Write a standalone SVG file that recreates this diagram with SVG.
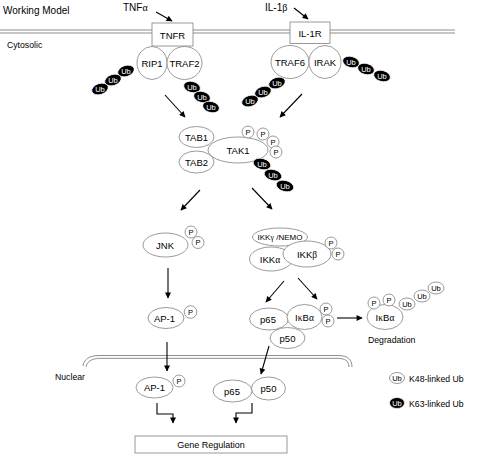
<svg xmlns="http://www.w3.org/2000/svg" width="477" height="454" viewBox="0 0 477 454">
<defs>
<marker id="ah" viewBox="0 0 10 10" refX="9" refY="5" markerWidth="7" markerHeight="6" markerUnits="userSpaceOnUse" orient="auto">
<path d="M0,0 L10,5 L0,10 z" fill="#000"/>
</marker>
<style>
text{font-family:"Liberation Sans",Arial,sans-serif;fill:#000}
.n{fill:#fff;stroke:#808080;stroke-width:0.8}
.lbl{font-size:9.5px;text-anchor:middle}
.ub ellipse{fill:#000;stroke:#fff;stroke-width:0.7}
.ub text{fill:#fff;font-size:7.5px;text-anchor:middle}
.wub ellipse{fill:#fff;stroke:#808080;stroke-width:0.8}
.wub text{font-size:7.5px;text-anchor:middle}
.p circle{fill:#fff;stroke:#808080;stroke-width:0.8}
.p text{font-size:7.5px;text-anchor:middle}
.mem{fill:none;stroke:#808080;stroke-width:0.9}
.arr{fill:none;stroke:#000;stroke-width:1.1;marker-end:url(#ah)}
.g{font-family:"Liberation Serif","DejaVu Serif",serif}
</style>
</defs>
<rect width="477" height="454" fill="#fff"/>

<!-- membranes -->
<g id="membranes">
<line class="mem" x1="0" y1="30" x2="455" y2="30"/>
<line class="mem" x1="0" y1="33" x2="455" y2="33"/>
<path class="mem" d="M83,366 C84,360 88,355.5 100,355.5 L338,355.5 C347,355.5 352,359 352,367"/>
<path class="mem" d="M86,367 C87,362 91,358.3 101,358.3 L337,358.3 C345,358.3 349,361 349,367"/>
</g>

<text x="3" y="14" style="font-size:10px">Working Model</text>
<text x="7" y="48" style="font-size:8.7px">Cytosolic</text>
<text x="55" y="380" style="font-size:8.7px">Nuclear</text>
<text x="123" y="11" style="font-size:10px">TNF<tspan class="g">α</tspan></text>
<text x="265" y="11" style="font-size:10px">IL-1<tspan class="g">β</tspan></text>

<!-- connectors -->
<g id="connectors">
<line class="arr" x1="156" y1="12" x2="172" y2="21"/>
<line class="arr" x1="294" y1="8" x2="308" y2="19"/>
<line class="arr" x1="165" y1="95" x2="185" y2="117"/>
<line class="arr" x1="302" y1="94" x2="280" y2="117"/>
<line class="arr" x1="200" y1="190" x2="181" y2="210"/>
<line class="arr" x1="252" y1="188" x2="272" y2="209"/>
<line class="arr" x1="168" y1="268" x2="168" y2="298"/>
<line class="arr" x1="284" y1="281" x2="266" y2="302"/>
<line class="arr" x1="298" y1="278" x2="317" y2="299"/>
<line class="arr" x1="337" y1="318" x2="362" y2="318"/>
<line class="arr" x1="167" y1="342" x2="167" y2="371"/>
<line class="arr" x1="269" y1="346" x2="261" y2="374"/>
<polyline class="arr" points="157,403 157,414 173,414 173,423"/>
<polyline class="arr" points="252,403 252,413 236,413 236,423"/>
</g>

<!-- TNFR complex -->
<g id="TNFR">
<rect class="n" x="152" y="23" width="41" height="23"/>
<text class="lbl" x="172.5" y="38.5">TNFR</text>
</g>
<g id="RIP1">
<ellipse class="n" cx="152" cy="63" rx="15" ry="16.5"/>
<text class="lbl" x="152" y="66.5">RIP1</text>
</g>
<g id="TRAF2">
<ellipse class="n" cx="184.5" cy="63" rx="17.5" ry="16.5"/>
<text class="lbl" x="184.5" y="66.5">TRAF2</text>
</g>
<g id="ub-rip1" class="ub">
<g transform="rotate(-18 126 71)"><ellipse cx="126" cy="71" rx="8.5" ry="5.5"/></g><text x="126" y="73.7">Ub</text>
<g transform="rotate(-18 113 80)"><ellipse cx="113" cy="80" rx="8.5" ry="5.5"/></g><text x="113" y="82.7">Ub</text>
<g transform="rotate(-18 100 89)"><ellipse cx="100" cy="89" rx="8.5" ry="5.5"/></g><text x="100" y="91.7">Ub</text>
</g>
<g id="ub-traf2" class="ub">
<g transform="rotate(15 192 87)"><ellipse cx="192" cy="87" rx="8.5" ry="5.5"/></g><text x="192" y="89.7">Ub</text>
<g transform="rotate(15 202 97)"><ellipse cx="202" cy="97" rx="8.5" ry="5.5"/></g><text x="202" y="99.7">Ub</text>
<g transform="rotate(15 211 107)"><ellipse cx="211" cy="107" rx="8.5" ry="5.5"/></g><text x="211" y="109.7">Ub</text>
</g>

<!-- IL-1R complex -->
<g id="IL1R">
<rect class="n" x="290" y="22" width="40" height="21.5"/>
<text class="lbl" x="310" y="37">IL-1R</text>
</g>
<g id="TRAF6">
<ellipse class="n" cx="290" cy="62" rx="19" ry="16.5"/>
<text class="lbl" x="290" y="65.5">TRAF6</text>
</g>
<g id="IRAK">
<ellipse class="n" cx="325" cy="62" rx="16" ry="16.5"/>
<text class="lbl" x="325" y="65.5">IRAK</text>
</g>
<g id="ub-irak" class="ub">
<g transform="rotate(15 351 62)"><ellipse cx="351" cy="62" rx="8.5" ry="5.5"/></g><text x="351" y="64.7">Ub</text>
<g transform="rotate(15 366 69)"><ellipse cx="366" cy="69" rx="8.5" ry="5.5"/></g><text x="366" y="71.7">Ub</text>
<g transform="rotate(15 382 76)"><ellipse cx="382" cy="76" rx="8.5" ry="5.5"/></g><text x="382" y="78.7">Ub</text>
</g>
<g id="ub-traf6" class="ub">
<g transform="rotate(-18 277 83)"><ellipse cx="277" cy="83" rx="8.5" ry="5.5"/></g><text x="277" y="85.7">Ub</text>
<g transform="rotate(-18 263 92)"><ellipse cx="263" cy="92" rx="8.5" ry="5.5"/></g><text x="263" y="94.7">Ub</text>
<g transform="rotate(-18 250 101)"><ellipse cx="250" cy="101" rx="8.5" ry="5.5"/></g><text x="250" y="103.7">Ub</text>
</g>

<!-- TAK1 complex -->
<g id="TAB1">
<ellipse class="n" cx="196.5" cy="137" rx="17.5" ry="10.5"/>
<text class="lbl" x="196.5" y="140.5">TAB1</text>
</g>
<g id="TAB2">
<ellipse class="n" cx="196.5" cy="162" rx="17.5" ry="11"/>
<text class="lbl" x="196.5" y="165.5">TAB2</text>
</g>
<g id="TAK1">
<ellipse class="n" cx="238" cy="150" rx="30" ry="13"/>
<text class="lbl" x="238" y="153.5">TAK1</text>
</g>
<g id="p-tak1" class="p">
<circle cx="248" cy="132" r="6"/><text x="248" y="134.7">P</text>
<circle cx="263" cy="134" r="6"/><text x="263" y="136.7">P</text>
<circle cx="273" cy="142" r="6"/><text x="273" y="144.7">P</text>
<circle cx="276" cy="152" r="6"/><text x="276" y="154.7">P</text>
</g>
<g id="ub-tak1" class="ub">
<g transform="rotate(15 262 164)"><ellipse cx="262" cy="164" rx="9" ry="5.5"/></g><text x="262" y="166.7">Ub</text>
<g transform="rotate(15 273 175)"><ellipse cx="273" cy="175" rx="9" ry="5.5"/></g><text x="273" y="177.7">Ub</text>
<g transform="rotate(15 285 186)"><ellipse cx="285" cy="186" rx="9" ry="5.5"/></g><text x="285" y="188.7">Ub</text>
</g>

<!-- JNK -->
<g id="JNK">
<ellipse class="n" cx="165.5" cy="245" rx="22.5" ry="12"/>
<text class="lbl" x="165" y="248.5">JNK</text>
</g>
<g id="p-jnk" class="p">
<circle cx="191" cy="232" r="6"/><text x="191" y="234.7">P</text>
<circle cx="198" cy="242.5" r="6"/><text x="198" y="245.2">P</text>
</g>
<g id="AP1">
<ellipse class="n" cx="166" cy="318" rx="18" ry="10.5"/>
<text class="lbl" x="164.5" y="321.5">AP-1</text>
</g>
<g id="p-ap1" class="p">
<circle cx="190.5" cy="312" r="6.3"/><text x="190.5" y="314.7">P</text>
</g>

<!-- IKK -->
<g id="NEMO">
<ellipse class="n" cx="280" cy="237" rx="27.5" ry="9"/>
<text x="280" y="240" style="font-size:8px;text-anchor:middle">IKK<tspan class="g">γ</tspan> /NEMO</text>
</g>
<g id="IKKa">
<ellipse class="n" cx="271" cy="259" rx="21.5" ry="12"/>
<text class="lbl" x="270" y="262.5">IKK<tspan class="g">α</tspan></text>
</g>
<g id="IKKb">
<ellipse class="n" cx="307" cy="254" rx="24" ry="13"/>
<text class="lbl" x="307" y="257.5">IKK<tspan class="g">β</tspan></text>
</g>
<g id="p-ikk" class="p">
<circle cx="331" cy="243" r="6"/><text x="331" y="245.7">P</text>
<circle cx="338" cy="254" r="6"/><text x="338" y="256.7">P</text>
</g>

<!-- NF-kB complex -->
<g id="p50c">
<ellipse class="n" cx="287.5" cy="338" rx="17.5" ry="10.5"/>
<text class="lbl" x="287.5" y="341.5">p50</text>
</g>
<g id="p65c">
<ellipse class="n" cx="269" cy="319" rx="19.5" ry="11"/>
<text class="lbl" x="268" y="322.5">p65</text>
</g>
<g id="IkBa">
<ellipse class="n" cx="304.5" cy="317" rx="17.5" ry="12.5"/>
<text class="lbl" x="304.5" y="320.5">I<tspan class="g">κ</tspan>B<tspan class="g">α</tspan></text>
</g>
<g id="p-ikba" class="p">
<circle cx="326" cy="309" r="6"/><text x="326" y="311.7">P</text>
<circle cx="328" cy="321" r="6"/><text x="328" y="323.7">P</text>
</g>

<!-- degraded IkBa -->
<g id="IkBa-deg">
<ellipse class="n" cx="385" cy="317" rx="18" ry="12.5"/>
<text class="lbl" x="385" y="320.5">I<tspan class="g">κ</tspan>B<tspan class="g">α</tspan></text>
</g>
<g id="p-deg" class="p">
<circle cx="374" cy="303" r="6"/><text x="374" y="305.7">P</text>
<circle cx="389" cy="300" r="6"/><text x="389" y="302.7">P</text>
</g>
<g id="ub-deg" class="wub">
<ellipse cx="407" cy="304" rx="8" ry="6"/><text x="407" y="306.7">Ub</text>
<ellipse cx="422" cy="296" rx="8" ry="6"/><text x="422" y="298.7">Ub</text>
<ellipse cx="436" cy="288" rx="8" ry="6"/><text x="436" y="290.7">Ub</text>
</g>
<text x="368" y="343" style="font-size:8.7px">Degradation</text>

<!-- Nuclear -->
<g id="AP1n">
<ellipse class="n" cx="154.5" cy="387.5" rx="18.5" ry="10.5"/>
<text class="lbl" x="154.5" y="391">AP-1</text>
</g>
<g id="p-ap1n" class="p">
<circle cx="179" cy="381" r="6"/><text x="179" y="383.7">P</text>
</g>
<g id="p65n">
<ellipse class="n" cx="232.5" cy="391" rx="19.5" ry="11"/>
<text class="lbl" x="232" y="394.5">p65</text>
</g>
<g id="p50n">
<ellipse class="n" cx="268.5" cy="388.5" rx="17" ry="11.5"/>
<text class="lbl" x="268.5" y="392">p50</text>
</g>

<g id="gene">
<rect class="n" x="135" y="436" width="152" height="17"/>
<text x="211" y="448" style="font-size:9px;text-anchor:middle">Gene Regulation</text>
</g>

<!-- legend -->
<g id="legend">
<g class="wub"><ellipse cx="397" cy="378" rx="7.5" ry="5.5"/><text x="397" y="380.7">Ub</text></g>
<text x="409" y="381.5" style="font-size:8.7px">K48-linked Ub</text>
<g class="ub"><ellipse cx="397" cy="403" rx="7.5" ry="5.5"/><text x="397" y="405.7">Ub</text></g>
<text x="409" y="406.5" style="font-size:8.7px">K63-linked Ub</text>
</g>
</svg>
